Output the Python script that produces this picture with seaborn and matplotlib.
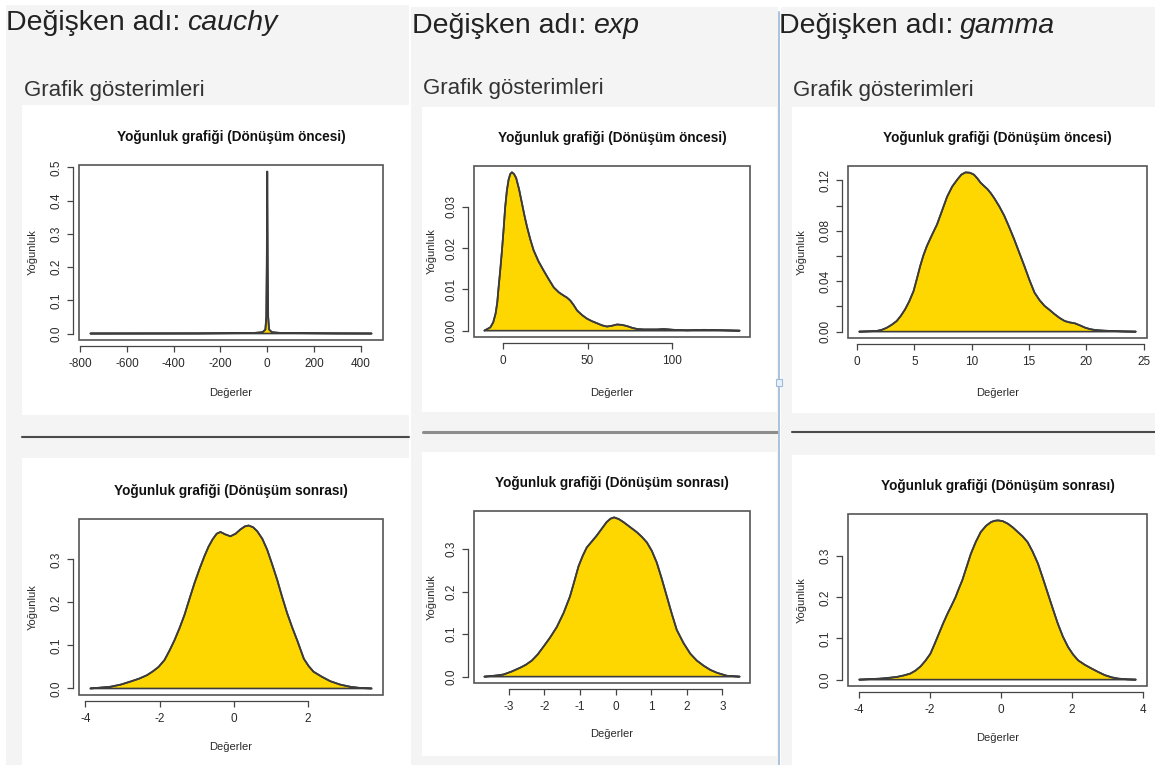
import pandas as pd
import matplotlib.pyplot as plt
import seaborn as sns
from matplotlib.patches import Rectangle
from matplotlib.lines import Line2D

W, H = 1155, 765

variables = ["cauchy", "exp", "gamma"]
header_text = "Değişken adı:"
sub_text = "Grafik gösterimleri"
title_before = "Yoğunluk grafiği (Dönüşüm öncesi)"
title_after = "Yoğunluk grafiği (Dönüşüm sonrası)"

# density curves
cauchy_before_x = [-757, -300, -60, -20, -8, -4, -2, 0, 2, 4, 8, 20, 60, 300, 447]
cauchy_before_y = [0.0, 0.0003, 0.0015, 0.004, 0.012, 0.05, 0.2, 0.488, 0.2, 0.05, 0.012, 0.004, 0.0015, 0.0003, 0.0]

cauchy_after_x = [-3.87, -3.6, -3.33, -3.05, -2.79, -2.55, -2.34, -2.18, -2.03, -1.87, -1.74, -1.60, -1.46,
                  -1.33, -1.20, -1.06, -0.92, -0.79, -0.68, -0.57, -0.46, -0.36, -0.22, -0.09, 0.05,
                  0.18, 0.30, 0.40, 0.52, 0.63, 0.77, 0.90, 1.03, 1.17, 1.30, 1.44, 1.58, 1.71, 1.89,
                  2.02, 2.15, 2.38, 2.60, 2.87, 3.14, 3.43, 3.72]
cauchy_after_y = [0.0, 0.002, 0.004, 0.009, 0.016, 0.023, 0.031, 0.040, 0.050, 0.066, 0.087, 0.112, 0.141,
                  0.171, 0.207, 0.245, 0.279, 0.308, 0.330, 0.347, 0.360, 0.364, 0.358, 0.354, 0.360,
                  0.370, 0.377, 0.379, 0.375, 0.366, 0.348, 0.323, 0.290, 0.253, 0.214, 0.175, 0.141,
                  0.112, 0.069, 0.052, 0.039, 0.027, 0.017, 0.009, 0.004, 0.001, 0.0]

exp_before_x = [-11.1, -7.5, -5.8, -4.4, -3.4, -2.6, -1.6, -0.6, 0.4, 1.3, 2.3, 3.3, 4.3, 5.3, 6.5, 7.8,
                9.5, 11.2, 12.7, 14.2, 16.1, 18.1, 21.0, 24.0, 27.0, 30.0, 33.0, 35.9, 37.9, 39.8,
                41.8, 43.8, 46.7, 49.7, 52.6, 55.6, 58.5, 61.5, 64.5, 67.4, 70.4, 73.4, 76.3, 79.3,
                83.3, 87.2, 91.1, 95.1, 98.0, 101.0, 108.9, 118.8, 130.6, 140.0]
exp_before_y = [0.0, 0.0008, 0.0020, 0.0041, 0.0068, 0.0105, 0.0148, 0.0195, 0.0248, 0.0300, 0.0340,
                0.0366, 0.0380, 0.0384, 0.0380, 0.0370, 0.0343, 0.0309, 0.0279, 0.0252, 0.0222, 0.0195,
                0.0168, 0.0146, 0.0125, 0.0105, 0.0093, 0.0085, 0.0080, 0.0073, 0.0062, 0.0049, 0.0038,
                0.0029, 0.0023, 0.0018, 0.0013, 0.0010, 0.0012, 0.0015, 0.0014, 0.0011, 0.0007, 0.0004,
                0.0003, 0.0003, 0.0003, 0.0004, 0.0003, 0.0002, 0.0001, 0.0002, 0.0001, 0.0]

exp_after_x = [-3.69, -3.42, -3.15, -2.92, -2.68, -2.52, -2.35, -2.19, -2.03, -1.84, -1.65, -1.46, -1.28,
               -1.16, -1.04, -0.92, -0.81, -0.67, -0.53, -0.39, -0.25, -0.14, -0.04, 0.09, 0.22, 0.41,
               0.60, 0.74, 0.88, 1.02, 1.16, 1.30, 1.44, 1.58, 1.72, 1.91, 2.10, 2.28, 2.47, 2.66, 2.85,
               3.13, 3.49]
exp_after_y = [0.0, 0.002, 0.005, 0.012, 0.021, 0.028, 0.038, 0.052, 0.070, 0.092, 0.117, 0.150, 0.189,
               0.224, 0.260, 0.285, 0.304, 0.318, 0.332, 0.348, 0.364, 0.372, 0.375, 0.371, 0.364, 0.352,
               0.340, 0.329, 0.316, 0.296, 0.268, 0.230, 0.189, 0.148, 0.110, 0.079, 0.054, 0.038,
               0.026, 0.016, 0.009, 0.002, 0.0]

gamma_before_x = [0.18, 1.70, 2.15, 2.58, 3.02, 3.46, 3.82, 4.19, 4.56, 4.93, 5.22, 5.51, 5.80, 6.10, 6.54,
                  6.98, 7.42, 7.86, 8.30, 8.74, 9.10, 9.47, 9.85, 10.20, 10.50, 10.79, 11.08, 11.38,
                  11.67, 11.96, 12.40, 12.84, 13.28, 13.72, 14.16, 14.60, 15.04, 15.48, 15.92, 16.36,
                  16.80, 17.24, 17.68, 18.12, 18.56, 19.00, 19.44, 19.88, 20.32, 20.76, 21.48, 22.20,
                  23.27, 24.33]
gamma_before_y = [0.0, 0.0005, 0.0014, 0.0030, 0.0054, 0.0084, 0.0125, 0.0176, 0.0241, 0.0321, 0.0418,
                  0.0520, 0.0607, 0.0680, 0.0767, 0.0850, 0.0960, 0.1070, 0.1150, 0.1205, 0.1245, 0.1263,
                  0.1260, 0.1245, 0.1215, 0.1180, 0.1155, 0.1130, 0.1098, 0.1060, 0.0995, 0.0920, 0.0828,
                  0.0730, 0.0625, 0.0520, 0.0410, 0.0310, 0.0250, 0.0204, 0.0172, 0.0138, 0.0108, 0.0084,
                  0.0073, 0.0066, 0.0050, 0.0032, 0.0020, 0.0013, 0.0008, 0.0005, 0.0002, 0.0]

gamma_after_x = [-3.99, -3.70, -3.40, -3.17, -2.93, -2.74, -2.55, -2.40, -2.26, -2.12, -1.98, -1.86, -1.74,
                 -1.62, -1.50, -1.38, -1.27, -1.18, -1.08, -0.96, -0.84, -0.70, -0.56, -0.41, -0.27,
                 -0.17, -0.07, 0.06, 0.20, 0.34, 0.48, 0.62, 0.76, 0.90, 1.05, 1.19, 1.33, 1.47, 1.61,
                 1.75, 1.90, 2.04, 2.18, 2.37, 2.56, 2.75, 2.94, 3.13, 3.32, 3.56, 3.81]
gamma_after_y = [0.0, 0.0012, 0.0024, 0.0042, 0.0065, 0.0100, 0.0146, 0.0220, 0.0320, 0.0460, 0.0630,
                 0.0870, 0.1120, 0.1370, 0.1600, 0.1810, 0.2010, 0.2210, 0.2420, 0.2740, 0.3060, 0.3350,
                 0.3590, 0.3740, 0.3830, 0.3860, 0.3870, 0.3850, 0.3790, 0.3700, 0.3590, 0.3480, 0.3340,
                 0.3110, 0.2820, 0.2460, 0.2090, 0.1720, 0.1360, 0.1050, 0.0790, 0.0610, 0.0470, 0.0360,
                 0.0270, 0.0185, 0.0107, 0.0055, 0.0024, 0.0008, 0.0]

# axis ticks
cauchy_before_xticks = [-800, -600, -400, -200, 0, 200, 400]
cauchy_before_yticks = [0.0, 0.1, 0.2, 0.3, 0.4, 0.5]
cauchy_before_ylabels = ["0.0", "0.1", "0.2", "0.3", "0.4", "0.5"]
cauchy_after_xticks = [-4, -2, 0, 2]
exp_before_xticks = [0, 50, 100]
exp_before_yticks = [0.0, 0.01, 0.02, 0.03]
exp_before_ylabels = ["0.00", "0.01", "0.02", "0.03"]
exp_after_xticks = [-3, -2, -1, 0, 1, 2, 3]
gamma_before_xticks = [0, 5, 10, 15, 20, 25]
gamma_before_yticks = [0.0, 0.02, 0.04, 0.06, 0.08, 0.10, 0.12]
gamma_before_ylabels = ["0.00", "", "0.04", "", "0.08", "", "0.12"]
gamma_after_xticks = [-4, -2, 0, 2, 4]
after_yticks = [0.0, 0.1, 0.2, 0.3]
after_ylabels = ["0.0", "0.1", "0.2", "0.3"]

sns.set_theme(style="white")
plt.rcParams["font.family"] = ["Liberation Sans", "DejaVu Sans"]

fig = plt.figure(figsize=(W / 100, H / 100), dpi=100)
fig.patch.set_facecolor("white")


def frac(x0, y0, x1, y1):
    return [x0 / W, 1 - y1 / H, (x1 - x0) / W, (y1 - y0) / H]


def rect(x0, y0, x1, y1, color, z):
    fig.add_artist(Rectangle((x0 / W, 1 - y1 / H), (x1 - x0) / W, (y1 - y0) / H,
                             transform=fig.transFigure, facecolor=color, edgecolor="none", zorder=z))


def hline(y, x0, x1, color, lw):
    fig.add_artist(Line2D([x0 / W, x1 / W], [1 - y / H, 1 - y / H], transform=fig.transFigure,
                          color=color, lw=lw, zorder=-1))


# page background: gray columns with white plot cards
for x0, y0, x1 in [(6, 5, 409), (411, 7, 778), (781, 7, 1155)]:
    rect(x0, y0, x1, 765, "#f4f4f4", -3)
for box in [(22, 105, 409, 415), (22, 458, 409, 765), (422, 107, 777, 412),
            (422, 452, 777, 756), (792, 107, 1155, 413), (792, 455, 1155, 765)]:
    rect(*box, "white", -2)
hline(437, 22, 409, "#4a4a4a", 1.5)
hline(432, 423, 777, "#8c8c8c", 2.2)
hline(432, 792, 1155, "#4a4a4a", 1.5)
fig.add_artist(Line2D([779 / W, 779 / W], [1 - 12 / H, 0], transform=fig.transFigure,
                      color="#a9c3de", lw=1.4, zorder=5))
fig.add_artist(Rectangle((776 / W, 1 - 386 / H), 6 / W, 7 / H, transform=fig.transFigure,
                         facecolor="#e8f1fa", edgecolor="#9dbbd9", lw=0.8, zorder=6))

# headers
renderer = fig.canvas.get_renderer()
for name, hx, hy, sx, sy in [("cauchy", 6, 30, 24, 96), ("exp", 412, 33, 423, 94), ("gamma", 779, 33, 793, 96)]:
    t = fig.text(hx / W, 1 - hy / H, header_text, fontsize=20.5, color="#222222", va="baseline")
    bb = t.get_window_extent(renderer=renderer)
    fig.text((bb.x1 + 7) / W, 1 - hy / H, name, fontsize=20.5, color="#222222", va="baseline", style="italic")
    fig.text(sx / W, 1 - sy / H, sub_text, fontsize=16, color="#333333", va="baseline")


def density_panel(box, xs, ys, xticks, yticks, ylabels, title, ylab_px):
    x0, y0, x1, y1 = box
    w, h = x1 - x0, y1 - y0
    ax = fig.add_axes(frac(*box))
    ax.set_facecolor("white")
    df = pd.DataFrame({"Değerler": xs, "Yoğunluk": ys})
    ax.fill(df["Değerler"], df["Yoğunluk"], facecolor="gold", edgecolor="#3c3c3c", lw=1.2, zorder=2)
    sns.lineplot(data=df, x="Değerler", y="Yoğunluk", ax=ax, color="#3c3c3c", lw=1.3,
                 sort=False, estimator=None, zorder=3)
    xr = max(xs) - min(xs)
    ax.set_xlim(min(xs) - 0.04 * xr, max(xs) + 0.04 * xr)
    ax.set_ylim(-0.04 * max(ys), 1.04 * max(ys))
    ax.set_xticks(xticks)
    ax.set_xticklabels([str(v) for v in xticks])
    ax.set_yticks(yticks)
    ax.set_yticklabels(ylabels)
    for side in ["top", "right"]:
        ax.spines[side].set_visible(False)
    for side in ["left", "bottom"]:
        ax.spines[side].set_position(("outward", 4.5))
        ax.spines[side].set_color("#444444")
        ax.spines[side].set_linewidth(0.9)
    ax.spines["bottom"].set_bounds(xticks[0], xticks[-1])
    ax.spines["left"].set_bounds(yticks[0], yticks[-1])
    ax.add_patch(Rectangle((0, 0), 1, 1, transform=ax.transAxes, fill=False,
                           edgecolor="#555555", lw=1.2, clip_on=False, zorder=4))
    ax.tick_params(axis="both", bottom=True, left=True, direction="out", length=4, width=0.9,
                   colors="#444444", labelcolor="#2a2a2a", labelsize=8.5)
    ax.tick_params(axis="x", pad=4.5)
    ax.tick_params(axis="y", pad=3.5, labelrotation=90)
    for lab in ax.get_yticklabels():
        lab.set_va("center")
    ax.set_xlabel("Değerler", fontsize=8, color="#2a2a2a")
    ax.set_ylabel("Yoğunluk", fontsize=8, color="#2a2a2a")
    ax.xaxis.set_label_coords(0.5, -(388 - y1) / h)
    ax.yaxis.set_label_coords((ylab_px + 6 - x0) / w, 0.5)
    ax.text(0.5, 1 + 28 / h, title, transform=ax.transAxes, ha="center", va="center",
            fontsize=9.8, fontweight="bold", color="#111111")
    return ax


density_panel((79, 165, 383, 340), cauchy_before_x, cauchy_before_y, cauchy_before_xticks,
              cauchy_before_yticks, cauchy_before_ylabels, title_before, 32)
ax = density_panel((79, 519, 383, 695), cauchy_after_x, cauchy_after_y, cauchy_after_xticks,
                   after_yticks, after_ylabels, title_after, 32)
ax.xaxis.set_label_coords(0.5, -(742 - 695) / 176)
density_panel((474, 166, 750, 337), exp_before_x, exp_before_y, exp_before_xticks,
              exp_before_yticks, exp_before_ylabels, title_before, 431)
ax = density_panel((474, 511, 750, 683), exp_after_x, exp_after_y, exp_after_xticks,
                   after_yticks, after_ylabels, title_after, 431)
ax.xaxis.set_label_coords(0.5, -(729 - 683) / 172)
density_panel((848, 166, 1147, 338), gamma_before_x, gamma_before_y, gamma_before_xticks,
              gamma_before_yticks, gamma_before_ylabels, title_before, 801)
ax = density_panel((848, 514, 1147, 686), gamma_after_x, gamma_after_y, gamma_after_xticks,
                   after_yticks, after_ylabels, title_after, 801)
ax.xaxis.set_label_coords(0.5, -(733 - 686) / 172)

fig.savefig("out.png", dpi=100, facecolor=fig.get_facecolor())
